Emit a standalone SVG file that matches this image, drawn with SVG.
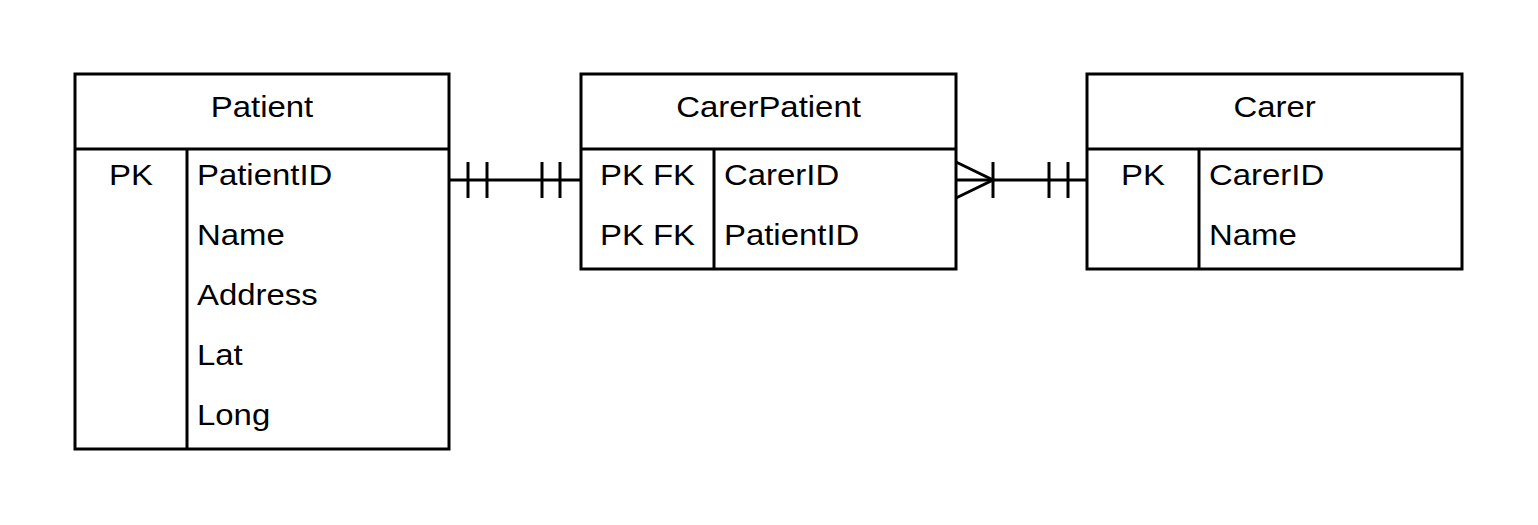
<svg xmlns="http://www.w3.org/2000/svg" width="1538" height="525" viewBox="0 0 1538 525">
<style>
.box{fill:#fff;stroke:#000;stroke-width:3}
.ln{fill:none;stroke:#000;stroke-width:3}
.t{font-family:"Liberation Sans",Arial,sans-serif;font-size:29px;fill:#000}
.c{text-anchor:middle}
</style>
<rect width="1538" height="525" fill="#fff"/>
<g id="patient">
<rect class="box" x="75" y="74" width="374" height="375"/>
<line class="ln" x1="75" y1="149" x2="449" y2="149"/>
<line class="ln" x1="187" y1="149" x2="187" y2="449"/>
<text class="t c" transform="translate(262,117) scale(1.135,1)">Patient</text>
<text class="t c" transform="translate(131,184.5) scale(1.135,1)">PK</text>
<text class="t" transform="translate(197,184.5) scale(1.135,1)">PatientID</text>
<text class="t" transform="translate(197,244.5) scale(1.135,1)">Name</text>
<text class="t" transform="translate(197,304.5) scale(1.135,1)">Address</text>
<text class="t" transform="translate(197,364.5) scale(1.135,1)">Lat</text>
<text class="t" transform="translate(197,424.5) scale(1.135,1)">Long</text>
</g>
<g id="carerpatient">
<rect class="box" x="581" y="74" width="375" height="195"/>
<line class="ln" x1="581" y1="149" x2="956" y2="149"/>
<line class="ln" x1="714" y1="149" x2="714" y2="269"/>
<text class="t c" transform="translate(768.5,117) scale(1.135,1)">CarerPatient</text>
<text class="t c" transform="translate(647.5,184.5) scale(1.135,1)">PK FK</text>
<text class="t c" transform="translate(647.5,244.5) scale(1.135,1)">PK FK</text>
<text class="t" transform="translate(724,184.5) scale(1.135,1)">CarerID</text>
<text class="t" transform="translate(724,244.5) scale(1.135,1)">PatientID</text>
</g>
<g id="carer">
<rect class="box" x="1087" y="74" width="375" height="195"/>
<line class="ln" x1="1087" y1="149" x2="1462" y2="149"/>
<line class="ln" x1="1199" y1="149" x2="1199" y2="269"/>
<text class="t c" transform="translate(1274.5,117) scale(1.135,1)">Carer</text>
<text class="t c" transform="translate(1143,184.5) scale(1.135,1)">PK</text>
<text class="t" transform="translate(1209,184.5) scale(1.135,1)">CarerID</text>
<text class="t" transform="translate(1209,244.5) scale(1.135,1)">Name</text>
</g>
<g id="connectors">
<g id="patient-carerpatient">
<line class="ln" x1="449" y1="180" x2="581" y2="180"/>
<line class="ln" x1="468" y1="162" x2="468" y2="198"/>
<line class="ln" x1="487" y1="162" x2="487" y2="198"/>
<line class="ln" x1="542" y1="162" x2="542" y2="198"/>
<line class="ln" x1="560" y1="162" x2="560" y2="198"/>
</g>
<g id="carerpatient-carer">
<line class="ln" x1="956" y1="180" x2="1087" y2="180"/>
<polyline class="ln" points="956,162 993,180 956,198"/>
<line class="ln" x1="993" y1="162" x2="993" y2="198"/>
<line class="ln" x1="1049" y1="162" x2="1049" y2="198"/>
<line class="ln" x1="1068" y1="162" x2="1068" y2="198"/>
</g>
</g>
</svg>
